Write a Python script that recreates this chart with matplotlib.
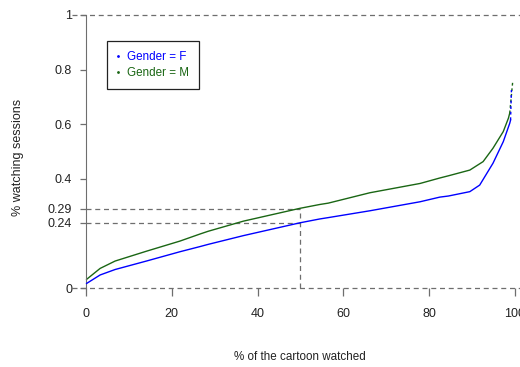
import matplotlib
matplotlib.use("Agg")
import matplotlib.pyplot as plt
from matplotlib.lines import Line2D

plt.rcParams['font.family'] = ['Liberation Sans', 'DejaVu Sans']
plt.rcParams['font.size'] = 9

# % of cartoon watched vs share of watching sessions
x_f = [0.15, 3.3, 6.8, 14.1, 21.9, 26.6, 28.5, 36.7, 49.9, 54.5, 56.5, 66.2, 77.9,
       82.5, 84.5, 89.5, 91.8, 94.9, 97.3, 98.8, 99.0, 99.2]
y_f = [0.017, 0.048, 0.068, 0.099, 0.133, 0.152, 0.160, 0.192, 0.239, 0.253, 0.258, 0.283, 0.316,
       0.333, 0.337, 0.353, 0.377, 0.457, 0.536, 0.603, 0.615, 0.725]
x_m = [0.15, 3.3, 6.8, 14.1, 21.9, 26.6, 28.5, 36.7, 49.9, 54.5, 56.5, 66.2, 77.9,
       82.5, 84.5, 89.5, 92.6, 94.9, 97.3, 98.5, 98.8, 99.5]
y_m = [0.032, 0.072, 0.099, 0.135, 0.172, 0.198, 0.208, 0.245, 0.292, 0.306, 0.311, 0.349, 0.383,
       0.403, 0.411, 0.432, 0.463, 0.512, 0.573, 0.622, 0.640, 0.756]

y_ticks = [0, 0.24, 0.29, 0.4, 0.6, 0.8, 1]
y_tick_labels = ['0', '0.24', '0.29', '0.4', '0.6', '0.8', '1']
x_ticks = [0, 20, 40, 60, 80, 100]

blue = '#0000ff'
green = '#1a6614'
grey = '#6e6e6e'
ink = '#222222'

fig = plt.figure(figsize=(5.2, 3.67), dpi=100)
ax = fig.add_axes([72 / 520, 1 - 299 / 367, 448 / 520, 295 / 367])
ax.set_xlim(-3.26, 101.2)
ax.set_ylim(-0.04, 1.04)

# reference lines
dash = dict(color=grey, lw=0.9, ls=(0, (4, 3)), zorder=1)
ax.axhline(0, **dash)
ax.axhline(1, **dash)
ax.plot([0, 50], [0.29, 0.29], **dash)
ax.plot([0, 50], [0.24, 0.24], **dash)
ax.plot([50, 50], [0, 0.29], **dash)

# curves, with the sparse tail drawn dotted
ax.plot(x_f[:-1], y_f[:-1], color=blue, lw=1.0, zorder=3)
ax.plot(x_f[-2:], y_f[-2:], color=blue, lw=1.0, ls=(0, (2, 2)), zorder=3)
ax.plot(x_m[:-1], y_m[:-1], color=green, lw=1.0, zorder=2)
ax.plot(x_m[-2:], y_m[-2:], color=green, lw=1.0, ls=(0, (2, 2)), zorder=2)

# R-style axes
for s in ['top', 'right']:
    ax.spines[s].set_visible(False)
ax.spines['left'].set_position(('data', 0))
ax.spines['left'].set_bounds(0, 1)
ax.spines['left'].set_color(grey)
ax.spines['bottom'].set_position(('data', 0))
ax.spines['bottom'].set_color('none')

ax.set_yticks(y_ticks)
ax.set_yticklabels(y_tick_labels)
ax.set_xticks(x_ticks)
ax.tick_params(axis='both', colors=grey, labelcolor=ink, width=0.9, labelsize=9)
ax.tick_params(axis='y', length=4, pad=6)
ax.tick_params(axis='x', length=6, pad=8)

fig.text(300 / 520, 1 - 357 / 367, '% of the cartoon watched', ha='center', va='center',
         fontsize=8.4, color=ink)
fig.text(18 / 520, 1 - 157 / 367, '% watching sessions', ha='center', va='center',
         rotation=90, fontsize=9, color=ink)

handles = [Line2D([], [], color=blue, marker='.', markersize=2, ls='none'),
           Line2D([], [], color=green, marker='.', markersize=2, ls='none')]
leg = ax.legend(handles, ['Gender = F', 'Gender = M'], loc='upper left',
                bbox_to_anchor=(0.078, 0.875), borderaxespad=0, fancybox=False,
                edgecolor=ink, framealpha=1, fontsize=8.4, handlelength=0.2,
                handletextpad=0.7, borderpad=0.85, labelspacing=0.4)
leg.get_frame().set_linewidth(0.9)
for t, c in zip(leg.get_texts(), [blue, green]):
    t.set_color(c)

fig.savefig('out.png', dpi=100)
